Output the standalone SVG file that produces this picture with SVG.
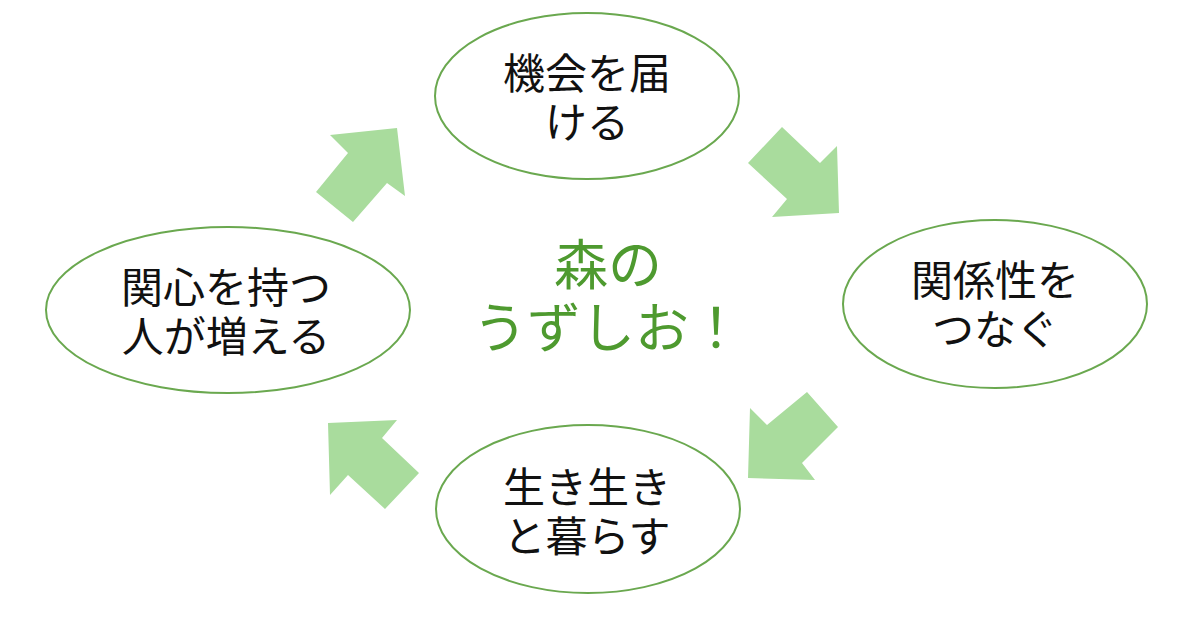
<svg xmlns="http://www.w3.org/2000/svg" width="1200" height="630" viewBox="0 0 1200 630">
<style>
.node ellipse{fill:#ffffff;stroke:#6aa84f;stroke-width:2}
.lbl{font-family:"Noto Sans CJK JP","Noto Sans",sans-serif;font-size:42px;fill:#111111;text-anchor:middle}
.center{font-family:"Noto Sans CJK JP","Noto Sans",sans-serif;font-size:54px;fill:#4e9a2f;text-anchor:middle}
.arrow{fill:#a9dc9d}
</style>
<rect width="1200" height="630" fill="#ffffff"/>
<g id="connectors">
<polygon class="arrow" points="330,135 397,128 405,196 387,183 353,222 316,192 348,153"/>
<polygon class="arrow" points="782,127 820,163 837,146 839,213 772,217 787,199 748,163"/>
<polygon class="arrow" points="807,392 838,427 802,463 815,480 748,478 750,408 767,425"/>
<polygon class="arrow" points="328,423 397,420 382,438 419,473 385,509 348,475 330,495"/>
</g>
<g id="node-top" class="node">
<ellipse cx="587" cy="96" rx="152" ry="83"/>
<text class="lbl"><tspan x="587" y="89">機会を届</tspan><tspan x="587" y="138">ける</tspan></text>
</g>
<g id="node-right" class="node">
<ellipse cx="995" cy="304" rx="152" ry="84"/>
<text class="lbl"><tspan x="995" y="296">関係性を</tspan><tspan x="995" y="345">つなぐ</tspan></text>
</g>
<g id="node-bottom" class="node">
<ellipse cx="588" cy="509" rx="152" ry="84"/>
<text class="lbl"><tspan x="587" y="503">生き生き</tspan><tspan x="587" y="552">と暮らす</tspan></text>
</g>
<g id="node-left" class="node">
<ellipse cx="228" cy="310" rx="182" ry="83"/>
<text class="lbl"><tspan x="226" y="303">関心を持つ</tspan><tspan x="226" y="352">人が増える</tspan></text>
</g>
<g id="center">
<text class="center"><tspan x="608" y="285">森の</tspan><tspan x="608" y="348">うずしお！</tspan></text>
</g>
</svg>
